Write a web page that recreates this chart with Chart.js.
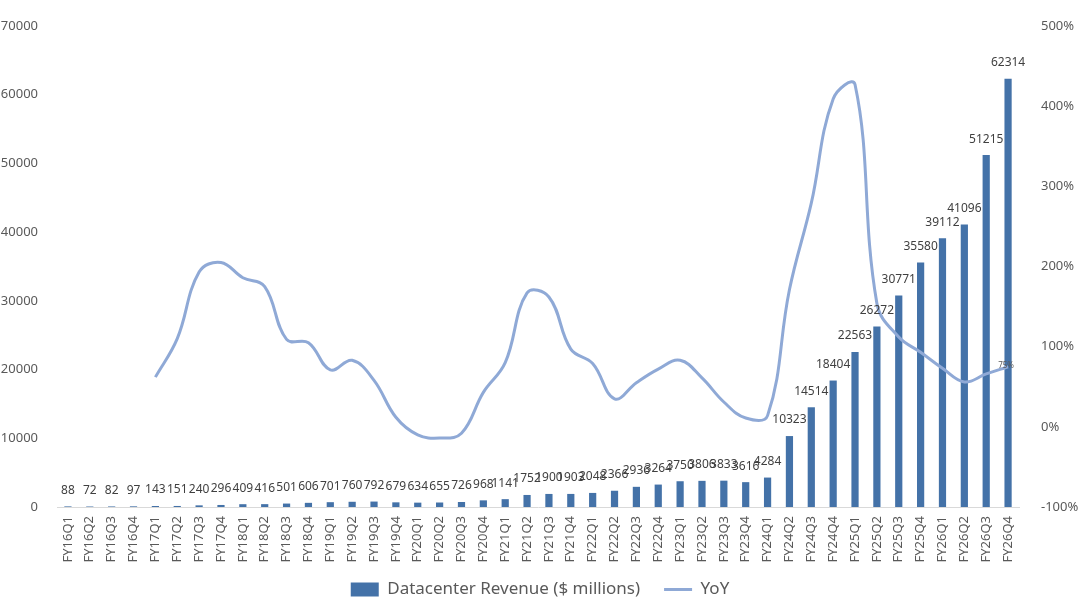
<!DOCTYPE html>
<html>
<head>
<meta charset="utf-8">
<script src="https://cdn.jsdelivr.net/npm/chart.js@4"></script>
<style>
  html, body { margin: 0; padding: 0; background: #fff; }
  #wrap { width: 1080px; height: 614px; }
</style>
</head>
<body>
<div id="wrap"><canvas id="chart"></canvas></div>
<script>
// quarters, revenue and YoY
const quarters = [
  'FY16Q1','FY16Q2','FY16Q3','FY16Q4','FY17Q1','FY17Q2','FY17Q3','FY17Q4',
  'FY18Q1','FY18Q2','FY18Q3','FY18Q4','FY19Q1','FY19Q2','FY19Q3','FY19Q4',
  'FY20Q1','FY20Q2','FY20Q3','FY20Q4','FY21Q1','FY21Q2','FY21Q3','FY21Q4',
  'FY22Q1','FY22Q2','FY22Q3','FY22Q4','FY23Q1','FY23Q2','FY23Q3','FY23Q4',
  'FY24Q1','FY24Q2','FY24Q3','FY24Q4','FY25Q1','FY25Q2','FY25Q3','FY25Q4',
  'FY26Q1','FY26Q2','FY26Q3','FY26Q4'
];
const revenue = [
  88, 72, 82, 97, 143, 151, 240, 296,
  409, 416, 501, 606, 701, 760, 792, 679,
  634, 655, 726, 968, 1141, 1752, 1900, 1903,
  2048, 2366, 2936, 3264, 3750, 3806, 3833, 3616,
  4284, 10323, 14514, 18404, 22563, 26272, 30771, 35580,
  39112, 41096, 51215, 62314
];
// YoY in %, no value for the FY16 quarters
const yoy = [
  null, null, null, null, 62, 110, 193, 205,
  186, 175, 109, 105, 71, 83, 58, 12,
  -10, -14, -8, 43, 80, 167, 162, 97,
  79, 35, 55, 72, 83, 61, 31, 11,
  14, 171, 279, 409, 427, 154, 112, 93,
  73, 56, 66, 75
];
const leftTicks = [0, 10000, 20000, 30000, 40000, 50000, 60000, 70000];
const rightTicks = [-100, 0, 100, 200, 300, 400, 500];

const FONT = '"Noto Sans", "Open Sans", sans-serif';
const GREY = '#595959';

// labels above bars + small label on last YoY point
const valueLabels = {
  id: 'valueLabels',
  afterLayout(chart) {
    // let the rotated x labels run into the legend band without clipping
    chart.scales.x.bottom = chart.height;
  },
  afterDatasetsDraw(chart) {
    const ctx = chart.ctx;
    ctx.save();
    ctx.font = '12px ' + FONT;
    ctx.fillStyle = '#404040';
    ctx.textAlign = 'center';
    ctx.textBaseline = 'middle';
    chart.getDatasetMeta(0).data.forEach((bar, i) => {
      ctx.fillText(String(revenue[i]), bar.x, bar.y - 16);
    });
    const pts = chart.getDatasetMeta(1).data;
    const last = pts[pts.length - 1];
    ctx.font = '8px ' + FONT;
    ctx.fillStyle = GREY;
    ctx.fillText(yoy[yoy.length - 1] + '%', last.x - 2, last.y - 1);
    ctx.restore();
  }
};

new Chart(document.getElementById('chart'), {
  data: {
    labels: quarters,
    datasets: [
      {
        type: 'bar',
        label: 'Datacenter Revenue ($ millions)',
        data: revenue,
        backgroundColor: '#4472a8',
        barPercentage: 0.66,
        categoryPercentage: 0.5,
        yAxisID: 'y',
        pointStyle: 'rect',
        order: 2
      },
      {
        type: 'line',
        label: 'YoY',
        data: yoy,
        borderColor: '#8fa9d6',
        backgroundColor: '#8fa9d6',
        borderWidth: 3,
        pointRadius: 0,
        tension: 0.4,
        spanGaps: false,
        yAxisID: 'y1',
        pointStyle: 'line',
        order: 1
      }
    ]
  },
  options: {
    responsive: true,
    maintainAspectRatio: false,
    animation: false,
    layout: { padding: { top: 26, right: 0, left: 0, bottom: 6 } },
    plugins: {
      legend: {
        position: 'bottom',
        labels: {
          usePointStyle: true,
          pointStyleWidth: 28,
          boxHeight: 14,
          padding: 24,
          color: GREY,
          font: { family: FONT, size: 17 },
          sort: (a, b) => a.datasetIndex - b.datasetIndex
        }
      },
      tooltip: { enabled: false }
    },
    scales: {
      x: {
        afterFit(axis) { axis.height = 50; },
        grid: { display: false, drawTicks: false },
        border: { color: '#d9d9d9' },
        ticks: {
          color: GREY,
          font: { family: FONT, size: 13 },
          minRotation: 90,
          maxRotation: 90,
          autoSkip: false,
          padding: 9
        }
      },
      y: {
        position: 'left',
        min: 0,
        max: 70000,
        afterBuildTicks(axis) { axis.ticks = leftTicks.map(v => ({ value: v })); },
        afterFit(axis) { axis.width = 57; },
        grid: { display: false },
        border: { display: false },
        ticks: {
          color: GREY,
          font: { family: FONT, size: 13 },
          padding: 11,
          callback: v => String(v)
        }
      },
      y1: {
        position: 'right',
        min: -100,
        max: 500,
        afterBuildTicks(axis) { axis.ticks = rightTicks.map(v => ({ value: v })); },
        afterFit(axis) { axis.width = 61; },
        grid: { display: false },
        border: { display: false },
        ticks: {
          color: GREY,
          font: { family: FONT, size: 13 },
          padding: 14,
          callback: v => v + '%'
        }
      }
    }
  },
  plugins: [valueLabels]
});
</script>
</body>
</html>
